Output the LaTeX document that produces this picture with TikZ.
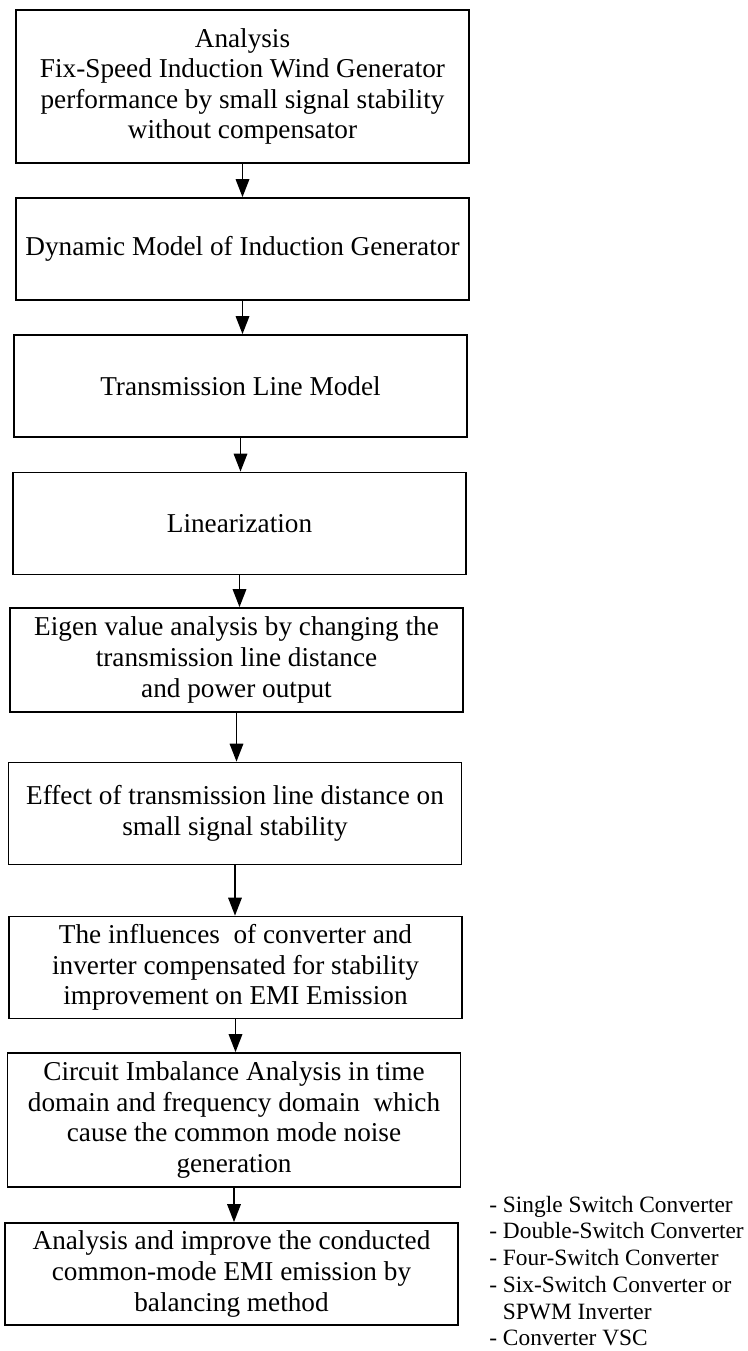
\documentclass[tikz,border=0pt]{standalone}
\usepackage{fontspec}
\setmainfont{Liberation Serif}
\usetikzlibrary{arrows.meta}
\begin{document}
\begin{tikzpicture}[x=0.02cm,y=-0.02cm,>={Triangle[length=0.36cm,width=0.27cm]},
  box/.style={draw,line width=1pt,inner sep=0pt,minimum width=9.06cm,minimum height=2.04cm,align=center,font=\fontsize{15.5}{17.4}\selectfont}]
  \useasboundingbox (0,0) rectangle (747,1351);
  \node[box,minimum height=3.06cm] (b1) at (242.5,86.5) {Analysis\\Fix-Speed Induction Wind Generator\\performance by small signal stability\\without compensator};
  \node[box] (b2) at (242.5,249) {Dynamic Model of Induction Generator};
  \node[box] (b3) at (240.5,386) {Transmission Line Model};
  \node[box] (b4) at (239.5,523.5) {Linearization};
  \node[box,minimum height=2.08cm] (b5) at (236.5,660) {Eigen value analysis by changing the\\transmission line distance\\and power output};
  \node[box] (b6) at (235,813.5) {Effect of transmission line distance on\\small signal stability};
  \node[box] (b7) at (235.5,967.5) {The influences\ \ of converter and\\inverter compensated for stability\\improvement on EMI Emission};
  \node[box,minimum height=2.68cm] (b8) at (234,1120) {Circuit Imbalance Analysis in time\\domain and frequency domain\ \ which\\cause the common mode noise\\generation};
  \node[box] (b9) at (231.5,1274) {Analysis and improve the conducted\\common-mode EMI emission by\\balancing method};
  % converter types
  \node[anchor=west,align=left,inner sep=0pt,font=\fontsize{13.3}{15.2}\selectfont] (types) at (489,1271)
    {- Single Switch Converter\\- Double-Switch Converter\\- Four-Switch Converter\\- Six-Switch Converter or\\\hphantom{- }SPWM Inverter\\- Converter VSC};
  \foreach \a/\b in {b1/b2,b2/b3,b3/b4,b4/b5,b5/b6,b6/b7,b7/b8,b8/b9}
    \draw[->,line width=1pt] (\a.south) -- (\a.south |- \b.north);
\end{tikzpicture}
\end{document}
